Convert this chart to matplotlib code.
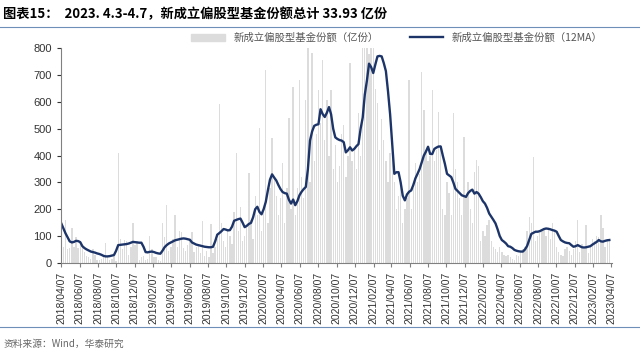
import matplotlib.pyplot as plt
from matplotlib.lines import Line2D
import pandas as pd

plt.rcParams['font.family'] = ['Liberation Sans', 'Noto Sans CJK SC', 'DejaVu Sans']

# weekly new equity fund shares (100m units)
weeks = pd.date_range('2018-04-07', periods=261, freq='7D')
shares = [
    55, 60, 160, 50, 55, 130, 60, 95, 55, 65,
    60, 40, 25, 20, 15, 50, 30, 12, 10, 15,
    30, 75, 20, 10, 15, 25, 5, 410, 90, 50,
    85, 80, 30, 60, 150, 65, 80, 10, 20, 25,
    10, 15, 100, 50, 20, 20, 10, 5, 150, 95,
    215, 45, 60, 90, 180, 60, 120, 115, 55, 45,
    65, 90, 115, 40, 60, 70, 35, 155, 25, 45,
    20, 145, 35, 60, 90, 593, 150, 80, 60, 120,
    100, 70, 190, 410, 120, 210, 80, 100, 140, 335,
    160, 90, 250, 180, 503, 120, 200, 720, 150, 280,
    466, 320, 250, 180, 240, 373, 150, 280, 541, 200,
    657, 180, 280, 683, 320, 240, 608, 800, 300, 783,
    380, 480, 645, 520, 757, 460, 608, 400, 645, 350,
    440, 300, 360, 480, 515, 320, 400, 746, 380, 420,
    350, 560, 400, 800, 800, 800, 780, 800, 800, 650,
    597, 420, 535, 460, 380, 300, 410, 410, 300, 200,
    250, 310, 150, 200, 240, 683, 200, 280, 373, 300,
    330, 713, 570, 420, 380, 400, 645, 380, 420, 563,
    440, 200, 180, 300, 260, 180, 560, 350, 300, 240,
    180, 470, 250, 300, 200, 150, 340, 384, 360, 80,
    120, 100, 140, 160, 80, 60, 50, 40, 60, 40,
    30, 25, 30, 20, 15, 10, 30, 25, 40, 50,
    60, 120, 172, 150, 395, 80, 100, 110, 120, 130,
    100, 130, 90, 150, 120, 60, 40, 30, 25, 50,
    60, 45, 30, 50, 80, 160, 40, 70, 50, 140,
    35, 60, 90, 80, 100, 95, 179, 130, 60, 90,
    85,
]

# 12-week moving average line
ma12 = [
    147, 128, 110, 95, 80, 76, 78, 82, 81, 77,
    62, 55, 50, 46, 42, 40, 38, 35, 33, 30,
    26, 24, 24, 25, 27, 29, 45, 66, 67, 68,
    69, 70, 72, 75, 78, 77, 76, 75, 75, 60,
    40, 39, 41, 42, 40, 37, 35, 34, 45, 58,
    66, 72, 76, 80, 84, 86, 88, 90, 91, 90,
    88, 86, 76, 72, 68, 66, 64, 62, 60, 59,
    58, 58, 60, 80, 105, 111, 118, 126, 124, 121,
    122, 135, 157, 160, 163, 165, 150, 133, 138, 145,
    149, 170, 200, 209, 190, 181, 200, 227, 270, 310,
    330, 318, 307, 290, 275, 264, 260, 258, 235, 221,
    236, 215, 230, 252, 265, 275, 283, 350, 456, 490,
    511, 515, 517, 573, 555, 544, 560, 581, 554, 500,
    468, 462, 458, 456, 450, 412, 420, 431, 419, 425,
    435, 443, 500, 542, 628, 680, 743, 730, 708, 740,
    770, 772, 770, 745, 715, 640, 554, 440, 332, 338,
    338, 300, 250, 233, 255, 265, 270, 290, 315, 332,
    350, 375, 400, 415, 433, 406, 406, 425, 430, 434,
    434, 400, 369, 332, 326, 320, 300, 276, 268, 260,
    252, 249, 246, 260, 268, 273, 258, 264, 258, 245,
    230, 221, 205, 184, 172, 160, 147, 125, 100, 85,
    79, 72, 62, 60, 55, 48, 45, 43, 42, 42,
    50, 63, 85, 108, 112, 116, 116, 118, 122, 126,
    128, 127, 125, 122, 120, 116, 100, 85, 80, 76,
    74, 73, 66, 60, 62, 66, 62, 58, 57, 58,
    60, 62, 68, 73, 78, 85, 80, 79, 82, 84,
    85,
]

tick_dates = pd.date_range('2018-04-01', '2023-04-01', freq='2MS') + pd.Timedelta(days=6)
tick_labels = [d.strftime('%Y/%m/%d') for d in tick_dates]

fig = plt.figure(figsize=(6.4, 3.61), dpi=100)
ax = fig.add_axes([0.0953, 0.272, 0.861, 0.594])

ax.bar(weeks, shares, width=4.5, color='#dcdcdc', zorder=1)
ax.plot(weeks, ma12, color='#1c3468', lw=1.7, zorder=2)

ax.set_ylim(0, 800)
ax.set_yticks(range(0, 801, 100))
ax.set_xlim(pd.Timestamp('2018-04-06'), pd.Timestamp('2023-04-10'))
ax.set_xticks(tick_dates)
ax.set_xticklabels(tick_labels, rotation=90, fontsize=7.5, color='#333333')
ax.tick_params(axis='y', labelsize=8, colors='#333333', length=3)
ax.tick_params(axis='x', length=3, color='#808080')
for s in ['top', 'right']:
    ax.spines[s].set_visible(False)
ax.spines['left'].set_color('#808080')
ax.spines['bottom'].set_color('#808080')

handles = [plt.Rectangle((0, 0), 1, 1, color='#dcdcdc'),
           Line2D([0], [0], color='#1c3468', lw=1.7)]
fig.legend(handles, ['新成立偏股型基金份额（亿份）', '新成立偏股型基金份额（12MA）'],
           loc='center', bbox_to_anchor=(0.62, 0.895), ncol=2, frameon=False,
           handlelength=3.2, columnspacing=3,
           prop={'family': ['Noto Sans CJK SC', 'DejaVu Sans'], 'size': 7.5})
for t in fig.legends[0].get_texts():
    t.set_color('#555555')

fig.text(0.005, 0.962, '图表15：  2023. 4.3-4.7，新成立偏股型基金份额总计 33.93 亿份',
         fontsize=9.5, fontweight='bold', va='center',
         family=['Noto Sans CJK SC', 'DejaVu Sans'])
fig.add_artist(Line2D([0, 1], [0.925, 0.925], color='#6d8fb8', lw=0.8))
fig.add_artist(Line2D([0, 1], [0.095, 0.095], color='#6d8fb8', lw=0.8))
fig.text(0.005, 0.048, '资料来源：Wind，华泰研究', fontsize=7, color='#666666', va='center',
         family=['Noto Sans CJK SC', 'DejaVu Sans'])

fig.savefig('out.png', dpi=100)
